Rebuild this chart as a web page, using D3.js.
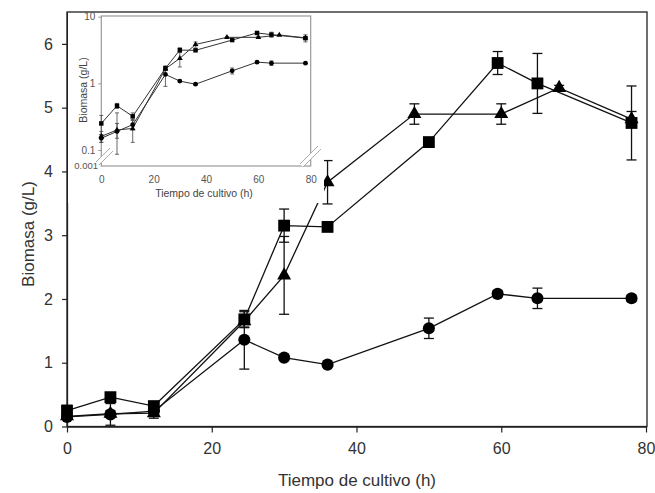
<!DOCTYPE html>
<html><head><meta charset="utf-8">
<script src="https://cdn.jsdelivr.net/npm/d3@7"></script>
<style>body{margin:0;background:#fff}svg{display:block}</style>
</head><body>
<svg id="c" width="655" height="493"></svg>
<script>
// ---- data ----
const sqTime = [0, 6, 12, 24.5, 30, 36, 50, 59.5, 65, 78];
const sqVal  = [0.25, 0.46, 0.32, 1.68, 3.15, 3.13, 4.46, 5.70, 5.38, 4.76];
const sqErr  = [0.08, 0.04, 0.04, 0.12, 0.26, 0.03, 0.05, 0.18, 0.47, 0.58];

const triTime = [0, 6, 12, 24.5, 30, 36, 48, 60, 68, 78];
const triVal  = [0.16, 0.20, 0.21, 1.65, 2.37, 3.83, 4.90, 4.90, 5.31, 4.82];
const triErr  = [0.03, 0.05, 0.08, 0.10, 0.61, 0.34, 0.16, 0.16, 0.04, 0.12];

const cirTime = [0, 6, 12, 24.5, 30, 36, 50, 59.5, 65, 78];
const cirVal  = [0.15, 0.19, 0.24, 1.36, 1.08, 0.97, 1.54, 2.08, 2.01, 2.01];
const cirErr  = [0.02, 0.17, 0.04, 0.46, 0.03, 0.03, 0.16, 0.05, 0.16, 0.05];

const xTicks = [0, 20, 40, 60, 80];
const yTicks = [0, 1, 2, 3, 4, 5, 6];
const insetYTicks = [10, 1, 0.1];
const insetBreakLabel = "0.001";

const xTitle = "Tiempo de cultivo (h)";
const yTitle = "Biomasa (g/L)";

// ---- build ----
const series = [
  {name:"circle", t:cirTime, v:cirVal, e:cirErr, sym:d3.symbolCircle, size:115, isize:18},
  {name:"triangle", t:triTime, v:triVal, e:triErr, sym:d3.symbolTriangle, size:85, isize:14},
  {name:"square", t:sqTime, v:sqVal, e:sqErr, sym:d3.symbolSquare, size:140, isize:20}
].map(s => ({...s, pts: s.t.map((t,i)=>({t, v:s.v[i], e:s.e[i]}))}));

const svg = d3.select("#c");
const font = "'Liberation Sans', Arial, sans-serif";
const ink = "#111";

// main scales
const x = d3.scaleLinear().domain([0, 80]).range([67, 646]);
const y = d3.scaleLinear().domain([0, 6.5]).range([426.5, 12]);

// frame
svg.append("rect").attr("x", 67).attr("y", 12).attr("width", 647-67).attr("height", 426.5-12)
  .attr("fill", "none").attr("stroke", "#222").attr("stroke-width", 1.3);

// axes
const gx = svg.append("g").attr("transform", "translate(0,426.5)")
  .call(d3.axisBottom(x).tickValues(xTicks).tickFormat(d3.format("d")).tickSize(6).tickSizeOuter(0).tickPadding(10));
const gy = svg.append("g").attr("transform", "translate(67,0)")
  .call(d3.axisLeft(y).tickValues(yTicks).tickFormat(d3.format("d")).tickSize(5).tickSizeOuter(0).tickPadding(9));
[gx, gy].forEach(g => {
  g.select(".domain").attr("stroke", "#222").attr("stroke-width", 1.3);
  g.selectAll(".tick line").attr("stroke", "#222").attr("stroke-width", 1.2);
  g.selectAll(".tick text").attr("font-family", font).attr("font-size", 16).attr("fill", "#333");
});

svg.append("text").attr("x", 357).attr("y", 486).attr("text-anchor", "middle")
  .attr("font-family", font).attr("font-size", 17).attr("fill", "#333").text(xTitle);
svg.append("text").attr("transform", "translate(34,234) rotate(-90)").attr("text-anchor", "middle")
  .attr("font-family", font).attr("font-size", 17).attr("fill", "#333").text(yTitle);

// main series
const line = d3.line().x(d => x(d.t)).y(d => y(d.v));
series.forEach(s => {
  svg.append("path").datum(s.pts).attr("d", line).attr("fill", "none")
    .attr("stroke", ink).attr("stroke-width", 1.3);
});
series.forEach(s => {
  const g = svg.append("g").attr("stroke", ink).attr("stroke-width", 1.3);
  s.pts.forEach(d => {
    const cx = x(d.t), y1 = y(d.v + d.e), y2 = y(Math.max(0, d.v - d.e));
    g.append("line").attr("x1", cx).attr("x2", cx).attr("y1", y1).attr("y2", y2);
    g.append("line").attr("x1", cx-5).attr("x2", cx+5).attr("y1", y1).attr("y2", y1);
    g.append("line").attr("x1", cx-5).attr("x2", cx+5).attr("y1", y2).attr("y2", y2);
  });
});
series.forEach(s => {
  svg.append("g").selectAll("path").data(s.pts).join("path")
    .attr("transform", d => `translate(${x(d.t)},${y(d.v)})`)
    .attr("d", d3.symbol().type(s.sym).size(s.size)).attr("fill", "#000");
});

// ---- inset ----
const ix = d3.scaleLinear().domain([0, 80]).range([101.3, 310.7]);
const iy = d3.scaleLog().domain([0.0575, 10.24]).range([166, 16]);
const inset = svg.append("g");
inset.append("rect").attr("x", 68).attr("y", 13).attr("width", 256).attr("height", 190).attr("fill", "#fff");
inset.append("rect").attr("x", 101.3).attr("y", 16).attr("width", 310.7-101.3).attr("height", 150)
  .attr("fill", "none").attr("stroke", "#999").attr("stroke-width", 1.2);

const gix = inset.append("g").attr("transform", "translate(0,166)")
  .call(d3.axisBottom(ix).tickValues(xTicks).tickSize(0).tickSizeOuter(0).tickPadding(10));
const giy = inset.append("g").attr("transform", "translate(101.3,0)")
  .call(d3.axisLeft(iy).tickValues(insetYTicks).tickFormat(d => String(d)).tickSize(3).tickSizeOuter(0).tickPadding(3));
[gix, giy].forEach(g => {
  g.select(".domain").remove();
  g.selectAll(".tick line").attr("stroke", "#999");
  g.selectAll(".tick text").attr("font-family", font).attr("font-size", 10).attr("fill", "#555");
});
inset.append("text").attr("x", 98).attr("y", 169).attr("text-anchor", "end")
  .attr("font-family", font).attr("font-size", 9.5).attr("fill", "#555").text(insetBreakLabel);
inset.append("text").attr("x", 204).attr("y", 197).attr("text-anchor", "middle")
  .attr("font-family", font).attr("font-size", 10.5).attr("fill", "#444").text(xTitle);
inset.append("text").attr("transform", "translate(87,90) rotate(-90)").attr("text-anchor", "middle")
  .attr("font-family", font).attr("font-size", 10.5).attr("fill", "#444").text(yTitle);

// break marks
function brk(x0, y0, x1, y1) {
  const g = inset.append("g");
  g.append("polygon").attr("points", `${x0},${y0} ${x1},${y1} ${x1+3},${y1+3} ${x0+3},${y0+3}`)
    .attr("fill", "#fff").attr("stroke", "none");
  g.append("line").attr("x1", x0).attr("y1", y0).attr("x2", x1).attr("y2", y1).attr("stroke", "#aaa").attr("stroke-width", 1);
  g.append("line").attr("x1", x0+3).attr("y1", y0+3).attr("x2", x1+3).attr("y2", y1+3).attr("stroke", "#aaa").attr("stroke-width", 1);
}
brk(96, 162, 110, 148);
brk(300, 164, 318, 146);

const iline = d3.line().x(d => ix(d.t)).y(d => iy(d.v));
series.forEach(s => {
  inset.append("path").datum(s.pts).attr("d", iline).attr("fill", "none")
    .attr("stroke", "#333").attr("stroke-width", 1);
});
series.forEach(s => {
  const g = inset.append("g").attr("stroke", "#444").attr("stroke-width", 0.8);
  s.pts.forEach(d => {
    const cx = ix(d.t), y1 = iy(d.v + d.e), y2 = iy(Math.max(d.v / 2.2, d.v - d.e));
    g.append("line").attr("x1", cx).attr("x2", cx).attr("y1", y1).attr("y2", y2);
    g.append("line").attr("x1", cx-2).attr("x2", cx+2).attr("y1", y1).attr("y2", y1);
    g.append("line").attr("x1", cx-2).attr("x2", cx+2).attr("y1", y2).attr("y2", y2);
  });
});
series.forEach(s => {
  inset.append("g").selectAll("path").data(s.pts).join("path")
    .attr("transform", d => `translate(${ix(d.t)},${iy(d.v)})`)
    .attr("d", d3.symbol().type(s.sym).size(s.isize)).attr("fill", "#000");
});
</script>
</body></html>
